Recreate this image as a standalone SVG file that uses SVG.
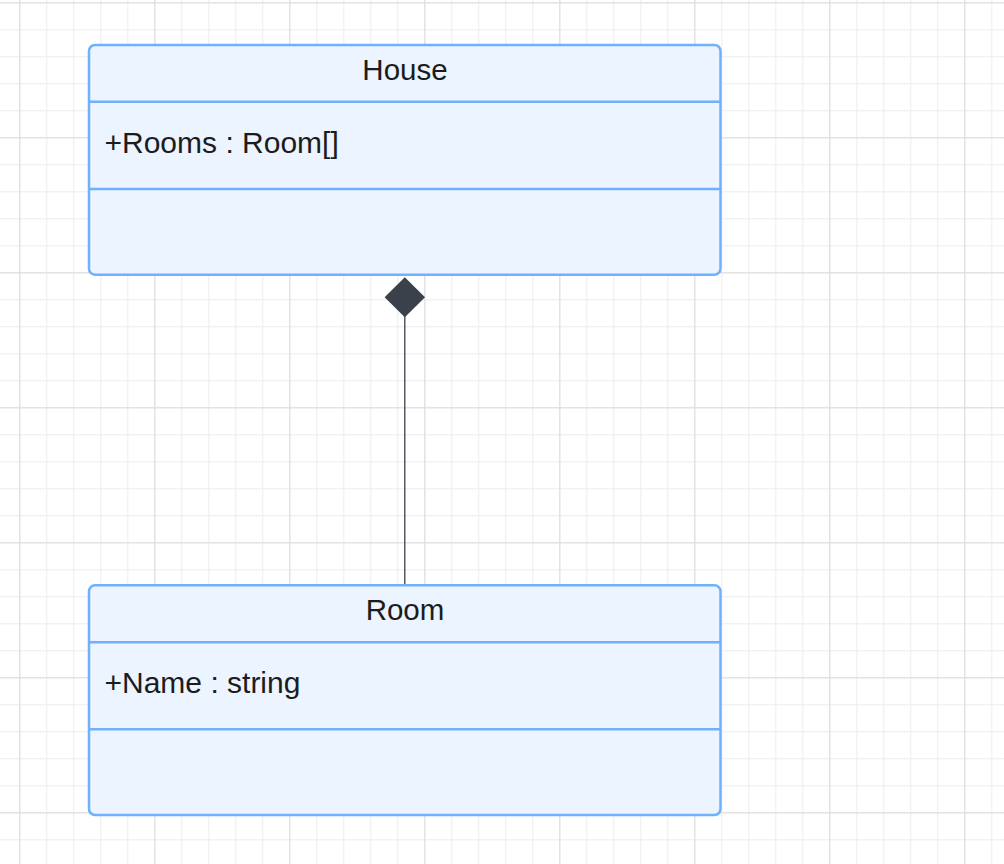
<svg xmlns="http://www.w3.org/2000/svg" width="1004" height="864" viewBox="0 0 1004 864">
  <defs>
    <pattern id="minor" x="19.3" y="2.3" width="27" height="27" patternUnits="userSpaceOnUse">
      <path d="M0 0.5H27M0.5 0V27" fill="none" stroke="#ececec" stroke-width="1"/>
    </pattern>
    <pattern id="major" x="19.3" y="2.3" width="135" height="135" patternUnits="userSpaceOnUse">
      <path d="M0 0.5H135M0.5 0V135" fill="none" stroke="#dcdcdc" stroke-width="1"/>
    </pattern>
  </defs>
  <style>
    .box { fill: #ebf4ff; stroke: #6fb1fb; stroke-width: 2.5; }
    .div { stroke: #6fb1fb; stroke-width: 2.5; fill: none; }
    .title { font-family: "Liberation Sans", Arial, sans-serif; font-size: 29.5px; fill: #1c1c1c; text-anchor: middle; }
    .attr { font-family: "Liberation Sans", Arial, sans-serif; font-size: 30px; fill: #1c1c1c; }
    .edge { stroke: #3a414a; stroke-width: 1.3; fill: none; }
  </style>
  <rect width="1004" height="864" fill="#ffffff"/>
  <rect width="1004" height="864" fill="url(#minor)"/>
  <rect width="1004" height="864" fill="url(#major)"/>

  <g id="connectors">
    <line class="edge" x1="404.8" y1="316" x2="404.8" y2="585"/>
    <polygon points="404.8,277.3 425,297.3 404.8,317.3 384.6,297.3" fill="#3a414a"/>
  </g>

  <g id="house">
    <rect class="box" x="89" y="45" width="631.5" height="229.7" rx="6"/>
    <line class="div" x1="89" y1="101.7" x2="720.5" y2="101.7"/>
    <line class="div" x1="89" y1="189" x2="720.5" y2="189"/>
    <text class="title" x="405" y="79.5">House</text>
    <text class="attr" x="104.5" y="152.7">+Rooms : Room[]</text>
  </g>

  <g id="room">
    <rect class="box" x="89" y="585.3" width="631.5" height="229.7" rx="6"/>
    <line class="div" x1="89" y1="642.3" x2="720.5" y2="642.3"/>
    <line class="div" x1="89" y1="729.3" x2="720.5" y2="729.3"/>
    <text class="title" x="405" y="619.5">Room</text>
    <text class="attr" x="104.5" y="692.7">+Name : string</text>
  </g>
</svg>
